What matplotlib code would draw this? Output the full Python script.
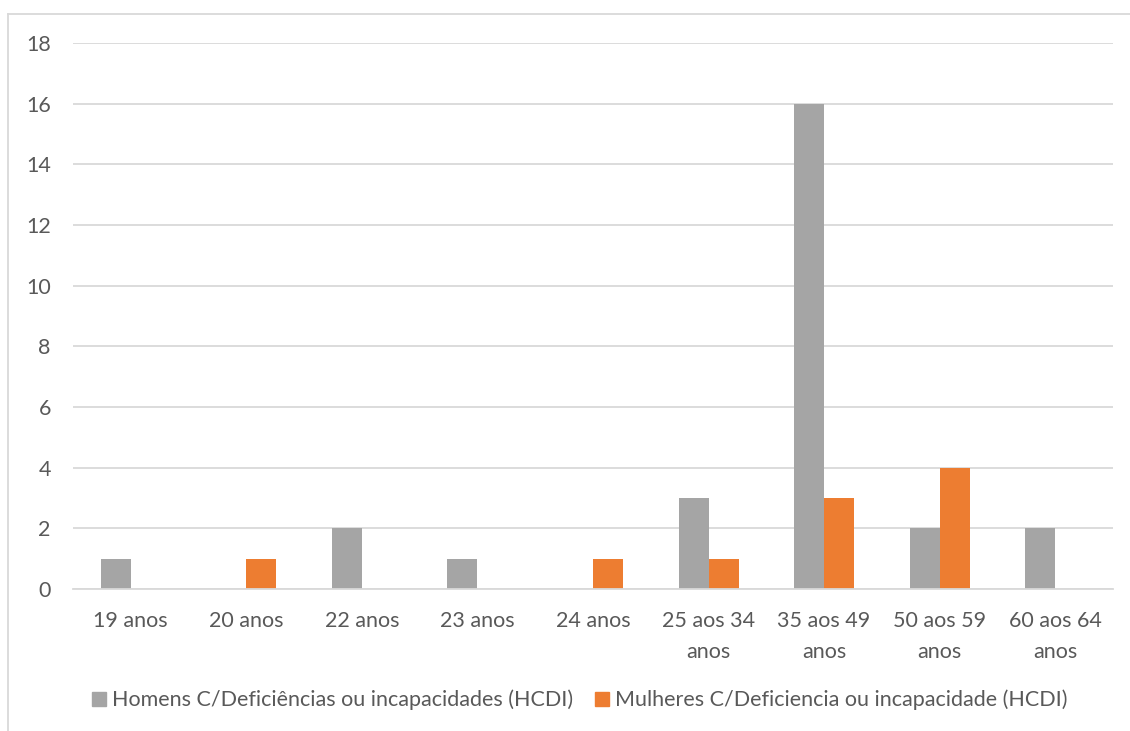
import matplotlib.pyplot as plt
import numpy as np
from matplotlib.lines import Line2D
from matplotlib.patches import Patch

categorias = ['19 anos', '20 anos', '22 anos', '23 anos', '24 anos',
              '25 aos 34\nanos', '35 aos 49\nanos', '50 aos 59\nanos', '60 aos 64\nanos']
homens = [1, 0, 2, 1, 0, 3, 16, 2, 2]
mulheres = [0, 1, 0, 0, 1, 1, 3, 4, 0]
nome_homens = 'Homens C/Deficiências ou incapacidades (HCDI)'
nome_mulheres = 'Mulheres C/Deficiencia ou incapacidade (HCDI)'

cinza = '#A5A5A5'
laranja = '#ED7D31'
texto = '#595959'

plt.rcParams['font.family'] = ['Lato', 'DejaVu Sans']

fig = plt.figure(figsize=(11.3, 7.31), dpi=100)
ax = fig.add_axes([73 / 1130, 1 - 589 / 731, 1040 / 1130, 546 / 731])

x = np.arange(len(categorias))
w = 0.26
ax.bar(x - w / 2, homens, w, color=cinza, zorder=3)
ax.bar(x + w / 2, mulheres, w, color=laranja, zorder=3)

ax.set_xlim(-0.5, len(categorias) - 0.5)
ax.set_ylim(0, 18)
ax.set_yticks(range(0, 19, 2))
ax.yaxis.grid(True, color='#D9D9D9', linewidth=1.3, zorder=0)
for s in ['top', 'right', 'left']:
    ax.spines[s].set_visible(False)
ax.spines['bottom'].set_color('#D9D9D9')
ax.spines['bottom'].set_linewidth(1.3)
ax.spines['bottom'].set_zorder(4)

ax.set_xticks(x)
ax.set_xticklabels(categorias, linespacing=1.65, va='top')
ax.tick_params(axis='both', length=0, labelsize=15.5, labelcolor=texto)
ax.tick_params(axis='x', pad=16)
ax.tick_params(axis='y', pad=16)

# moldura do gráfico
fig.add_artist(Line2D([8 / 1130, 8 / 1130], [0, 1 - 14 / 731], color='#D9D9D9', linewidth=1.3))
fig.add_artist(Line2D([8 / 1130, 1], [1 - 14 / 731, 1 - 14 / 731], color='#D9D9D9', linewidth=1.3))

handles = [Patch(color=cinza, label=nome_homens), Patch(color=laranja, label=nome_mulheres)]
fig.legend(handles=handles, loc='center', bbox_to_anchor=(0.513, 1 - 700 / 731), ncol=2,
           frameon=False, fontsize=15.5, labelcolor=texto, handlelength=0.65,
           handleheight=0.65, handletextpad=0.3, columnspacing=1.0)

fig.savefig('out.png', dpi=100)
